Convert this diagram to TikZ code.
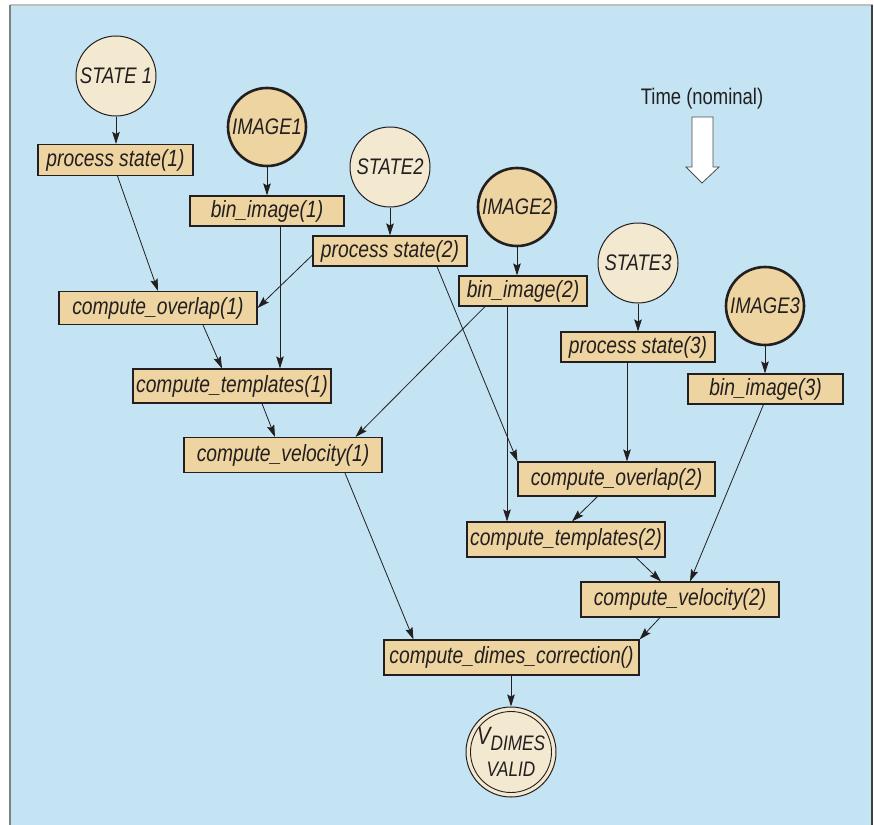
\documentclass[tikz,border=0pt]{standalone}
\usepackage{fontspec}
\setmainfont{Liberation Sans}[FakeStretch=0.82]
\usetikzlibrary{arrows.meta}
\definecolor{bgblue}{RGB}{196,227,243}
\definecolor{tanfill}{RGB}{238,212,160}
\definecolor{creamfill}{RGB}{243,232,208}
\definecolor{ink}{RGB}{35,31,32}
\tikzset{
  labfont/.style={font=\fontsize{23.5}{25}\selectfont\itshape, text=ink},
  circfont/.style={font=\fontsize{22.5}{24}\selectfont\itshape, text=ink},
  procbox/.style={draw=ink, line width=1.1pt, fill=tanfill, inner sep=0pt, labfont},
  statecirc/.style={circle, draw=ink, line width=1pt, fill=creamfill, inner sep=0pt,
    minimum size=80pt, circfont},
  imagecirc/.style={circle, draw=ink, line width=2.6pt, fill=tanfill, inner sep=0pt,
    minimum size=78pt, circfont},
  arr/.style={draw=ink, line width=0.8pt, -{Stealth[length=12pt,width=7.5pt,inset=2pt]}},
}
\begin{document}
\begin{tikzpicture}[x=1pt,y=-1pt]
\useasboundingbox (0,0) rectangle (874,824);
% frame
\fill[bgblue] (10,5) rectangle (873,830);
\draw[black!25, line width=1.5pt] (10,5) -- (873,5);
\draw[black!50, line width=2pt] (10,5) -- (10,830);
\draw[black!75, line width=2pt] (872,5) -- (872,830);

% time arrow
\node[font=\fontsize{22.5}{24}\selectfont, text=ink] (time) at (702,99) {Time (nominal)};
\draw[ink!80, line width=0.8pt, fill=white] (692,117) -- (713,117) -- (713,167) -- (719,167) -- (702,183) -- (686,167) -- (692,167) -- cycle;

% nodes
\node[statecirc] (s1) at (116,76) {STATE 1};
\node[procbox, minimum width=155pt, minimum height=31pt] (ps1) at (115.5,160) {process state(1)};
\node[imagecirc] (i1) at (267,127) {IMAGE1};
\node[procbox, minimum width=154pt, minimum height=30pt] (b1) at (267,211) {bin\_image(1)};
\node[statecirc] (s2) at (390,167) {STATE2};
\node[procbox, minimum width=154pt, minimum height=30pt] (ps2) at (390,251) {process state(2)};
\node[imagecirc] (i2) at (517,207) {IMAGE2};
\node[procbox, minimum width=128pt, minimum height=30pt] (b2) at (523,291) {bin\_image(2)};
\node[statecirc] (s3) at (638,263) {STATE3};
\node[procbox, minimum width=154pt, minimum height=30pt] (ps3) at (638,347) {process state(3)};
\node[imagecirc] (i3) at (765,306) {IMAGE3};
\node[procbox, minimum width=155pt, minimum height=30pt] (b3) at (765.5,389) {bin\_image(3)};
\node[procbox, minimum width=198pt, minimum height=33pt] (co1) at (158,308) {compute\_overlap(1)};
\node[procbox, minimum width=198pt, minimum height=34pt] (ct1) at (232,386) {compute\_templates(1)};
\node[procbox, minimum width=198pt, minimum height=35pt] (cv1) at (283,455) {compute\_velocity(1)};
\node[procbox, minimum width=197pt, minimum height=34pt] (co2) at (616.5,479) {compute\_overlap(2)};
\node[procbox, minimum width=198pt, minimum height=35pt] (ct2) at (566,539.5) {compute\_templates(2)};
\node[procbox, minimum width=198pt, minimum height=35pt] (cv2) at (680,599.5) {compute\_velocity(2)};
\node[procbox, minimum width=255pt, minimum height=35pt] (cdc) at (511.5,657.5) {compute\_dimes\_correction()};
\node[circle, draw=ink, line width=1pt, fill=creamfill, minimum size=90pt, inner sep=0pt,
  align=center, font=\fontsize{21}{23}\selectfont\itshape, text=ink] (v) at (511,752)
  {{\fontsize{25}{23}\selectfont V}\raisebox{-0.3em}{DIMES}\\[9pt]VALID};
\draw[ink, line width=0.9pt] (v.center) circle (40.5);

% connectors
\draw[arr] (s1.south) -- (s1.south |- ps1.north);
\draw[arr] ([xshift=2pt]ps1.south) -- (co1.north);
\draw[arr] (i1.south) -- (i1.south |- b1.north);
\draw[arr] ([xshift=13pt]b1.south) -- ([xshift=13pt]b1.south |- ct1.north);
\draw[arr] (s2.south) -- (s2.south |- ps2.north);
\draw[arr] ([yshift=-4pt]ps2.west) -- (co1.east);
\draw[arr] ([xshift=47pt]ps2.south) -- (co2.north west);
\draw[arr] (i2.south) -- (i2.south |- b2.north);
\draw[arr] ([xshift=-38pt]b2.south) -- ([xshift=-27pt]cv1.north east);
\draw[arr] ([xshift=-16pt]b2.south) -- ([xshift=-16pt]b2.south |- ct2.north);
\draw[arr] (s3.south) -- (s3.south |- ps3.north);
\draw[arr] ([xshift=-11pt]ps3.south) -- ([xshift=-11pt]ps3.south |- co2.north);
\draw[arr] (i3.south) -- (i3.south |- b3.north);
\draw[arr] ([xshift=-2pt]b3.south) -- ([xshift=10pt]cv2.north);
\draw[arr] ([xshift=-19pt]co2.south) -- ([xshift=6pt]ct2.north);
\draw[arr] ([xshift=45pt]co1.south) -- ([xshift=-10pt]ct1.north);
\draw[arr] ([xshift=30pt]ct1.south) -- ([xshift=-8pt]cv1.north);
\draw[arr] ([xshift=70pt]ct2.south) -- ([xshift=-19pt]cv2.north);
\draw[arr] ([xshift=62pt]cv1.south) -- ([xshift=-98pt]cdc.north);
\draw[arr] ([xshift=-20pt]cv2.south) -- (cdc.north east);
\draw[arr] (cdc.south -| v.north) -- (v.north);
\end{tikzpicture}
\end{document}
